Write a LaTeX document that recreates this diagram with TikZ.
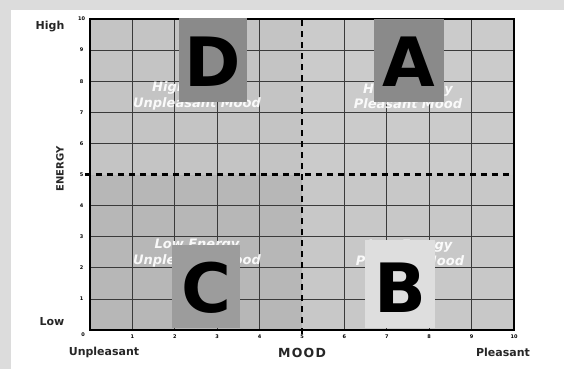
\documentclass[tikz,border=0pt]{standalone}
\usepackage{fontspec}
\setmainfont{DejaVu Sans}
\definecolor{bgframe}{HTML}{DCDCDC}
\definecolor{qtl}{HTML}{C4C4C4}
\definecolor{qtr}{HTML}{CBCBCB}
\definecolor{qbl}{HTML}{B7B7B7}
\definecolor{qbr}{HTML}{C8C8C8}
\definecolor{boxdark}{HTML}{8A8A8A}
\definecolor{boxmid}{HTML}{9C9C9C}
\definecolor{boxlight}{HTML}{DEDEDE}
\definecolor{gridc}{HTML}{3A3A3A}
\tikzset{
  gridline/.style={draw=gridc, line width=0.8pt},
  dashline/.style={draw=black, line width=2.4pt, dash pattern=on 6pt off 5pt},
  ticklab/.style={font=\bfseries\fontsize{5}{5}\selectfont, inner sep=0pt},
  axlab/.style={font=\bfseries\fontsize{11}{11}\selectfont, text=black!85, inner sep=0pt},
  quadtext/.style={font=\bfseries\itshape\fontsize{13}{15.5}\selectfont, text=white, align=center, inner sep=0pt, opacity=0.92},
  bigletter/.style={font=\bfseries\fontsize{68}{68}\selectfont, inner sep=0pt},
}
\begin{document}
\begin{tikzpicture}[x=1pt,y=-1pt]
\useasboundingbox (0,0) rectangle (564,369);
\fill[bgframe] (0,0) rectangle (564,369);
\fill[white] (11,10) rectangle (564,369);
\begin{scope}[shift={(90,330)}, x=42.4pt, y=31.1pt]
  \fill[qtl] (0,5) rectangle (5,10);
  \fill[qtr] (5,5) rectangle (10,10);
  \fill[qbl] (0,0) rectangle (5,5);
  \fill[qbr] (5,0) rectangle (10,5);
  \foreach \i in {1,2,3,4,6,7,8,9} {
    \draw[gridline] (\i,0) -- (\i,10);
    \draw[gridline] (0,\i) -- (10,\i);
  }
  \draw[dashline] (5,-0.12) -- (5,10);
  \draw[dashline] (-0.12,5) -- (10,5);
  \draw[line width=1.5pt] (0,10) -- (10,10) -- (10,0);
  \draw[line width=2.6pt] (0,10.04) -- (0,0) -- (10.03,0);
  \foreach \i in {1,...,10} {
    \node[ticklab] (xt\i) at (\i,-0.2) {\i};
    \node[ticklab] (yt\i) at (-0.2,\i) {\i};
  }
  \node[ticklab] (zero) at (-0.16,-0.15) {0};
\end{scope}
% quadrant texts (partly covered by the letter boxes, as in the original)
\node[quadtext] (tD) at (197,96) {High Energy\\Unpleasant Mood};
\node[quadtext] (tA) at (408,96) {High Energy\\Pleasant Mood};
\node[quadtext] (tC) at (197,253) {Low Energy\\Unpleasant Mood};
\node[quadtext] (tB) at (410,253) {Low Energy\\Pleasant Mood};
% letter boxes
\fill[boxdark] (179,18) rectangle (247,102);
\fill[boxdark] (374,19) rectangle (444,102);
\fill[boxmid] (172,245) rectangle (240,328);
\fill[boxlight] (365,240) rectangle (435,328);
\node[bigletter] (lD) at (213,62) {D};
\node[bigletter] (lA) at (409,62) {A};
\node[bigletter] (lC) at (206,288) {C};
\node[bigletter] (lB) at (400,288) {B};
% axis labels
\node[axlab] (high) at (50,27) {High};
\node[axlab] (low) at (52,322) {Low};
\node[axlab] (unp) at (104,352) {Unpleasant};
\node[axlab] (ple) at (503,352) {Pleasant};
\node[axlab, font=\bfseries\fontsize{12.5}{12.5}\selectfont\addfontfeatures{LetterSpace=10}] (mood) at (302,353) {MOOD};
\node[axlab, font=\bfseries\fontsize{10}{10}\selectfont, rotate=90] (energy) at (60,169) {ENERGY};
\end{tikzpicture}
\end{document}
